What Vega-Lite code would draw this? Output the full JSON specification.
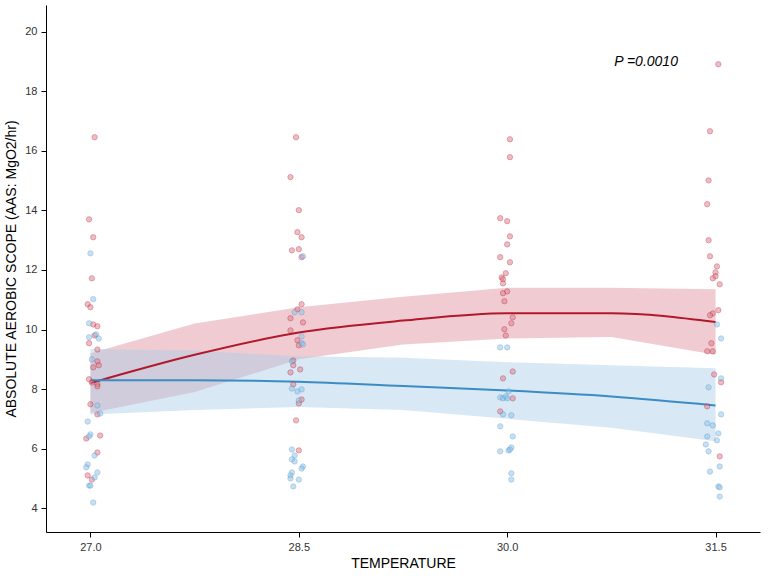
{
  "$schema": "https://vega.github.io/schema/vega-lite/v6.json",
  "width": 714,
  "height": 527,
  "autosize": "none",
  "padding": {"left": 46, "top": 5, "right": 8, "bottom": 44},
  "background": "#ffffff",
  "config": {"view": {"stroke": null}, "font": "Liberation Sans"},
  "datasets": {
    "pts": [
      {"g":"red","t":27.03,"v":16.46},{"g":"red","t":26.99,"v":13.70},{"g":"red","t":27.02,"v":13.10},{"g":"red","t":27.01,"v":11.72},{"g":"red","t":26.98,"v":10.85},{"g":"red","t":27.00,"v":10.75},{"g":"red","t":27.02,"v":10.17},{"g":"red","t":27.05,"v":10.11},{"g":"red","t":27.03,"v":9.80},{"g":"red","t":26.99,"v":9.54},{"g":"red","t":27.05,"v":9.33},{"g":"red","t":27.05,"v":8.93},{"g":"red","t":27.02,"v":8.73},{"g":"red","t":27.06,"v":8.80},{"g":"red","t":26.99,"v":8.33},{"g":"red","t":27.01,"v":8.22},{"g":"red","t":27.05,"v":8.16},{"g":"red","t":27.05,"v":8.09},{"g":"red","t":27.00,"v":7.49},{"g":"red","t":27.05,"v":7.15},{"g":"red","t":26.97,"v":6.34},{"g":"red","t":27.07,"v":6.44},{"g":"red","t":27.05,"v":5.87},{"g":"red","t":26.98,"v":5.10},{"g":"red","t":27.01,"v":4.96},
      {"g":"blue","t":27.00,"v":12.56},{"g":"blue","t":27.02,"v":11.02},{"g":"blue","t":26.99,"v":10.21},{"g":"blue","t":26.99,"v":9.74},{"g":"blue","t":27.04,"v":9.84},{"g":"blue","t":27.06,"v":9.70},{"g":"blue","t":27.01,"v":9.00},{"g":"blue","t":27.05,"v":7.45},{"g":"blue","t":27.07,"v":7.18},{"g":"blue","t":26.98,"v":6.91},{"g":"blue","t":27.00,"v":6.48},{"g":"blue","t":26.99,"v":6.41},{"g":"blue","t":27.03,"v":5.77},{"g":"blue","t":26.98,"v":5.47},{"g":"blue","t":26.97,"v":5.37},{"g":"blue","t":27.05,"v":5.20},{"g":"blue","t":27.03,"v":5.03},{"g":"blue","t":26.99,"v":4.76},{"g":"blue","t":27.00,"v":4.76},{"g":"blue","t":27.02,"v":4.19},
      {"g":"red","t":28.48,"v":16.46},{"g":"red","t":28.44,"v":15.12},{"g":"red","t":28.50,"v":14.01},{"g":"red","t":28.49,"v":13.27},{"g":"red","t":28.52,"v":13.10},{"g":"red","t":28.45,"v":12.66},{"g":"red","t":28.50,"v":12.70},{"g":"red","t":28.52,"v":12.43},{"g":"red","t":28.52,"v":10.85},{"g":"red","t":28.49,"v":10.68},{"g":"red","t":28.44,"v":10.38},{"g":"red","t":28.53,"v":10.24},{"g":"red","t":28.44,"v":9.97},{"g":"red","t":28.49,"v":9.64},{"g":"red","t":28.50,"v":9.47},{"g":"red","t":28.46,"v":8.96},{"g":"red","t":28.46,"v":8.80},{"g":"red","t":28.51,"v":8.66},{"g":"red","t":28.44,"v":8.56},{"g":"red","t":28.46,"v":8.16},{"g":"red","t":28.52,"v":7.65},{"g":"red","t":28.50,"v":7.52},{"g":"red","t":28.48,"v":6.95},{"g":"red","t":28.50,"v":5.94},
      {"g":"blue","t":28.53,"v":12.46},{"g":"blue","t":28.47,"v":10.58},{"g":"blue","t":28.52,"v":10.58},{"g":"blue","t":28.52,"v":9.77},{"g":"blue","t":28.52,"v":9.54},{"g":"blue","t":28.53,"v":9.50},{"g":"blue","t":28.45,"v":8.93},{"g":"blue","t":28.45,"v":8.02},{"g":"blue","t":28.49,"v":7.92},{"g":"blue","t":28.52,"v":7.99},{"g":"blue","t":28.50,"v":7.62},{"g":"blue","t":28.45,"v":5.97},{"g":"blue","t":28.47,"v":5.77},{"g":"blue","t":28.45,"v":5.64},{"g":"blue","t":28.47,"v":5.57},{"g":"blue","t":28.53,"v":5.40},{"g":"blue","t":28.52,"v":5.33},{"g":"blue","t":28.45,"v":5.20},{"g":"blue","t":28.44,"v":5.10},{"g":"blue","t":28.44,"v":5.00},{"g":"blue","t":28.50,"v":4.96},{"g":"blue","t":28.46,"v":4.73},
      {"g":"red","t":30.02,"v":16.39},{"g":"red","t":30.02,"v":15.79},{"g":"red","t":29.95,"v":13.74},{"g":"red","t":30.00,"v":13.64},{"g":"red","t":30.02,"v":13.13},{"g":"red","t":30.00,"v":12.86},{"g":"red","t":29.95,"v":12.43},{"g":"red","t":30.02,"v":12.26},{"g":"red","t":29.99,"v":11.89},{"g":"red","t":29.96,"v":11.75},{"g":"red","t":29.97,"v":11.69},{"g":"red","t":29.97,"v":11.55},{"g":"red","t":29.97,"v":11.22},{"g":"red","t":30.00,"v":11.28},{"g":"red","t":29.98,"v":10.95},{"g":"red","t":30.04,"v":10.41},{"g":"red","t":30.03,"v":10.21},{"g":"red","t":29.98,"v":10.01},{"g":"red","t":29.99,"v":9.80},{"g":"red","t":30.04,"v":8.59},{"g":"red","t":29.97,"v":8.36},{"g":"red","t":30.04,"v":7.69},{"g":"red","t":29.95,"v":7.25},
      {"g":"blue","t":29.95,"v":9.40},{"g":"blue","t":30.00,"v":9.40},{"g":"blue","t":30.01,"v":7.92},{"g":"blue","t":29.95,"v":7.72},{"g":"blue","t":29.97,"v":7.69},{"g":"blue","t":29.99,"v":7.75},{"g":"blue","t":30.00,"v":7.69},{"g":"blue","t":29.97,"v":7.15},{"g":"blue","t":30.03,"v":7.12},{"g":"blue","t":29.95,"v":6.75},{"g":"blue","t":30.04,"v":6.41},{"g":"blue","t":29.95,"v":5.91},{"g":"blue","t":30.01,"v":5.94},{"g":"blue","t":30.03,"v":6.04},{"g":"blue","t":30.02,"v":5.97},{"g":"blue","t":30.03,"v":5.17},{"g":"blue","t":30.03,"v":4.96},
      {"g":"red","t":31.52,"v":18.91},{"g":"red","t":31.46,"v":16.66},{"g":"red","t":31.45,"v":15.01},{"g":"red","t":31.44,"v":14.21},{"g":"red","t":31.45,"v":13.00},{"g":"red","t":31.46,"v":12.46},{"g":"red","t":31.51,"v":12.12},{"g":"red","t":31.50,"v":11.92},{"g":"red","t":31.50,"v":11.79},{"g":"red","t":31.48,"v":11.72},{"g":"red","t":31.53,"v":11.52},{"g":"red","t":31.52,"v":10.65},{"g":"red","t":31.48,"v":10.54},{"g":"red","t":31.46,"v":10.48},{"g":"red","t":31.47,"v":9.54},{"g":"red","t":31.44,"v":9.27},{"g":"red","t":31.48,"v":9.27},{"g":"red","t":31.49,"v":8.49},{"g":"red","t":31.54,"v":8.23},{"g":"red","t":31.44,"v":7.42},{"g":"red","t":31.53,"v":5.74},
      {"g":"blue","t":31.51,"v":10.17},{"g":"blue","t":31.54,"v":9.70},{"g":"blue","t":31.54,"v":8.36},{"g":"blue","t":31.45,"v":8.06},{"g":"blue","t":31.54,"v":7.15},{"g":"blue","t":31.44,"v":6.85},{"g":"blue","t":31.48,"v":6.78},{"g":"blue","t":31.52,"v":6.51},{"g":"blue","t":31.44,"v":6.41},{"g":"blue","t":31.51,"v":6.28},{"g":"blue","t":31.43,"v":6.14},{"g":"blue","t":31.45,"v":5.91},{"g":"blue","t":31.46,"v":5.23},{"g":"blue","t":31.53,"v":5.40},{"g":"blue","t":31.52,"v":4.73},{"g":"blue","t":31.53,"v":4.70},{"g":"blue","t":31.53,"v":4.39}
    ],
    "fit": [
      {"g":"red","t":27.0,"f":8.2,"lo":7.2,"hi":9.2},
      {"g":"red","t":27.75,"f":9.15,"lo":7.9,"hi":10.2},
      {"g":"red","t":28.5,"f":9.9,"lo":9.0,"hi":10.75},
      {"g":"red","t":29.25,"f":10.3,"lo":9.5,"hi":11.1},
      {"g":"red","t":30.0,"f":10.55,"lo":9.7,"hi":11.4},
      {"g":"red","t":30.75,"f":10.55,"lo":9.75,"hi":11.4},
      {"g":"red","t":31.5,"f":10.25,"lo":9.15,"hi":11.35},
      {"g":"blue","t":27.0,"f":8.3,"lo":7.15,"hi":9.35},
      {"g":"blue","t":27.75,"f":8.3,"lo":7.3,"hi":9.3},
      {"g":"blue","t":28.5,"f":8.25,"lo":7.4,"hi":9.1},
      {"g":"blue","t":29.25,"f":8.1,"lo":7.3,"hi":9.05},
      {"g":"blue","t":30.0,"f":7.95,"lo":7.0,"hi":8.9},
      {"g":"blue","t":30.75,"f":7.75,"lo":6.7,"hi":8.8},
      {"g":"blue","t":31.5,"f":7.45,"lo":6.25,"hi":8.7}
    ],
    "note": [{"t":31.0,"v":19.0,"label":"P =0.0010"}]
  },
  "layer": [
    {
      "data": {"name": "fit"},
      "mark": {"type": "area", "opacity": 0.45},
      "encoding": {
        "x": {"field": "t", "type": "quantitative"},
        "y": {"field": "lo", "type": "quantitative"},
        "y2": {"field": "hi"},
        "color": {"field": "g", "type": "nominal", "scale": {"domain": ["red","blue"], "range": ["#dd8e9b","#a9cbe6"]}, "legend": null}
      }
    },
    {
      "data": {"name": "fit"},
      "mark": {"type": "line", "strokeWidth": 2, "interpolate": "monotone"},
      "encoding": {
        "x": {"field": "t", "type": "quantitative"},
        "y": {"field": "f", "type": "quantitative"},
        "color": {"field": "g", "type": "nominal", "scale": {"domain": ["red","blue"], "range": ["#b2182b","#3a8cc4"]}, "legend": null}
      }
    },
    {
      "data": {"name": "pts"},
      "mark": {"type": "circle", "size": 28, "opacity": 0.5, "strokeWidth": 0.8},
      "encoding": {
        "x": {"field": "t", "type": "quantitative", "title": "TEMPERATURE",
          "scale": {"domain": [26.68, 31.82], "nice": false, "zero": false},
          "axis": {"values": [27, 28.5, 30, 31.5], "format": ".1f", "grid": false, "domainColor": "#000", "tickColor": "#000", "labelColor": "#333", "labelFontSize": 11, "titleFontSize": 14, "titleFontWeight": "normal", "titleColor": "#000", "labelPadding": 4, "titlePadding": 4}},
        "y": {"field": "v", "type": "quantitative", "title": "ABSOLUTE AEROBIC SCOPE (AAS: MgO2/hr)",
          "scale": {"domain": [3.2, 20.9], "nice": false, "zero": false},
          "axis": {"values": [4,6,8,10,12,14,16,18,20], "grid": false, "domainColor": "#000", "tickColor": "#000", "labelColor": "#333", "labelFontSize": 11, "titleFontSize": 14, "titleFontWeight": "normal", "titleColor": "#000", "labelPadding": 4, "titlePadding": 6}},
        "fill": {"field": "g", "type": "nominal", "scale": {"domain": ["red","blue"], "range": ["#e07a8a","#8fc3e8"]}, "legend": null},
        "stroke": {"field": "g", "type": "nominal", "scale": {"domain": ["red","blue"], "range": ["#b2182b","#4a90c8"]}, "legend": null}
      }
    },
    {
      "data": {"name": "note"},
      "mark": {"type": "text", "fontSize": 14, "fontStyle": "italic", "color": "#000"},
      "encoding": {
        "x": {"field": "t", "type": "quantitative"},
        "y": {"field": "v", "type": "quantitative"},
        "text": {"field": "label"}
      }
    }
  ],
  "resolve": {"scale": {"color": "independent"}}
}
